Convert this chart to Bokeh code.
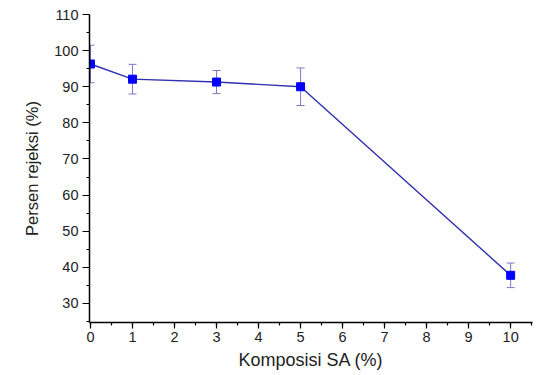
from bokeh.plotting import figure
from bokeh.models import ColumnDataSource, Whisker, TeeHead, SingleIntervalTicker, Range1d
from bokeh.embed import file_html
from bokeh.resources import INLINE

# Data
komposisi = [0, 1, 3, 5, 10]
rejeksi = [96.3, 92.1, 91.3, 90.0, 37.8]
err = [5.2, 4.1, 3.2, 5.2, 3.4]

x_ticks_interval = 1
y_ticks_interval = 10

upper = [v + e for v, e in zip(rejeksi, err)]
lower = [v - e for v, e in zip(rejeksi, err)]
src = ColumnDataSource(dict(x=komposisi, y=rejeksi, upper=upper, lower=lower))

p = figure(width=543, height=375, output_backend="svg", toolbar_location=None,
           x_range=Range1d(-0.024, 10.52), y_range=Range1d(24.74, 110))
p.min_border_left = 89
p.min_border_right = 11
p.min_border_top = 14
p.min_border_bottom = 53
p.outline_line_color = None
p.xgrid.visible = False
p.ygrid.visible = False
p.background_fill_color = "white"
p.border_fill_color = "white"

err_color = "#7b7bc4"
w = Whisker(source=src, base="x", upper="upper", lower="lower",
            line_color=err_color, line_width=1,
            upper_head=TeeHead(size=8, line_color=err_color, line_width=1),
            lower_head=TeeHead(size=8, line_color=err_color, line_width=1))
p.add_layout(w)

p.line("x", "y", source=src, line_color="#3030b0", line_width=1.4)
p.scatter("x", "y", source=src, marker="square", size=8,
          fill_color="#0000ff", line_color="#0000ff")

font = "Liberation Sans"
p.xaxis.ticker = SingleIntervalTicker(interval=x_ticks_interval, num_minor_ticks=2)
p.yaxis.ticker = SingleIntervalTicker(interval=y_ticks_interval, num_minor_ticks=2)
for ax in (p.xaxis[0], p.yaxis[0]):
    ax.axis_line_color = "black"
    ax.axis_line_width = 1.5
    ax.major_tick_line_color = "black"
    ax.minor_tick_line_color = "black"
    ax.major_tick_line_width = 1.2
    ax.minor_tick_line_width = 1.2
    ax.major_tick_in = 0
    ax.minor_tick_in = 0
    ax.major_tick_out = 6
    ax.minor_tick_out = 3
    ax.major_label_text_font = font
    ax.major_label_text_font_size = "14.5px"
    ax.major_label_text_color = "#222222"
    ax.axis_label_text_font = font
    ax.axis_label_text_font_style = "normal"
    ax.axis_label_text_color = "#222222"

p.yaxis.major_tick_out = 7
p.xaxis.axis_label = "Komposisi SA (%)"
p.yaxis.axis_label = "Persen rejeksi (%)"
p.xaxis.axis_label_text_font_size = "18px"
p.yaxis.axis_label_text_font_size = "16.5px"
p.xaxis.major_label_standoff = 3
p.yaxis.major_label_standoff = 4
p.xaxis.axis_label_standoff = 5
p.yaxis.axis_label_standoff = 10

open("out.html", "w").write(file_html(p, INLINE))
